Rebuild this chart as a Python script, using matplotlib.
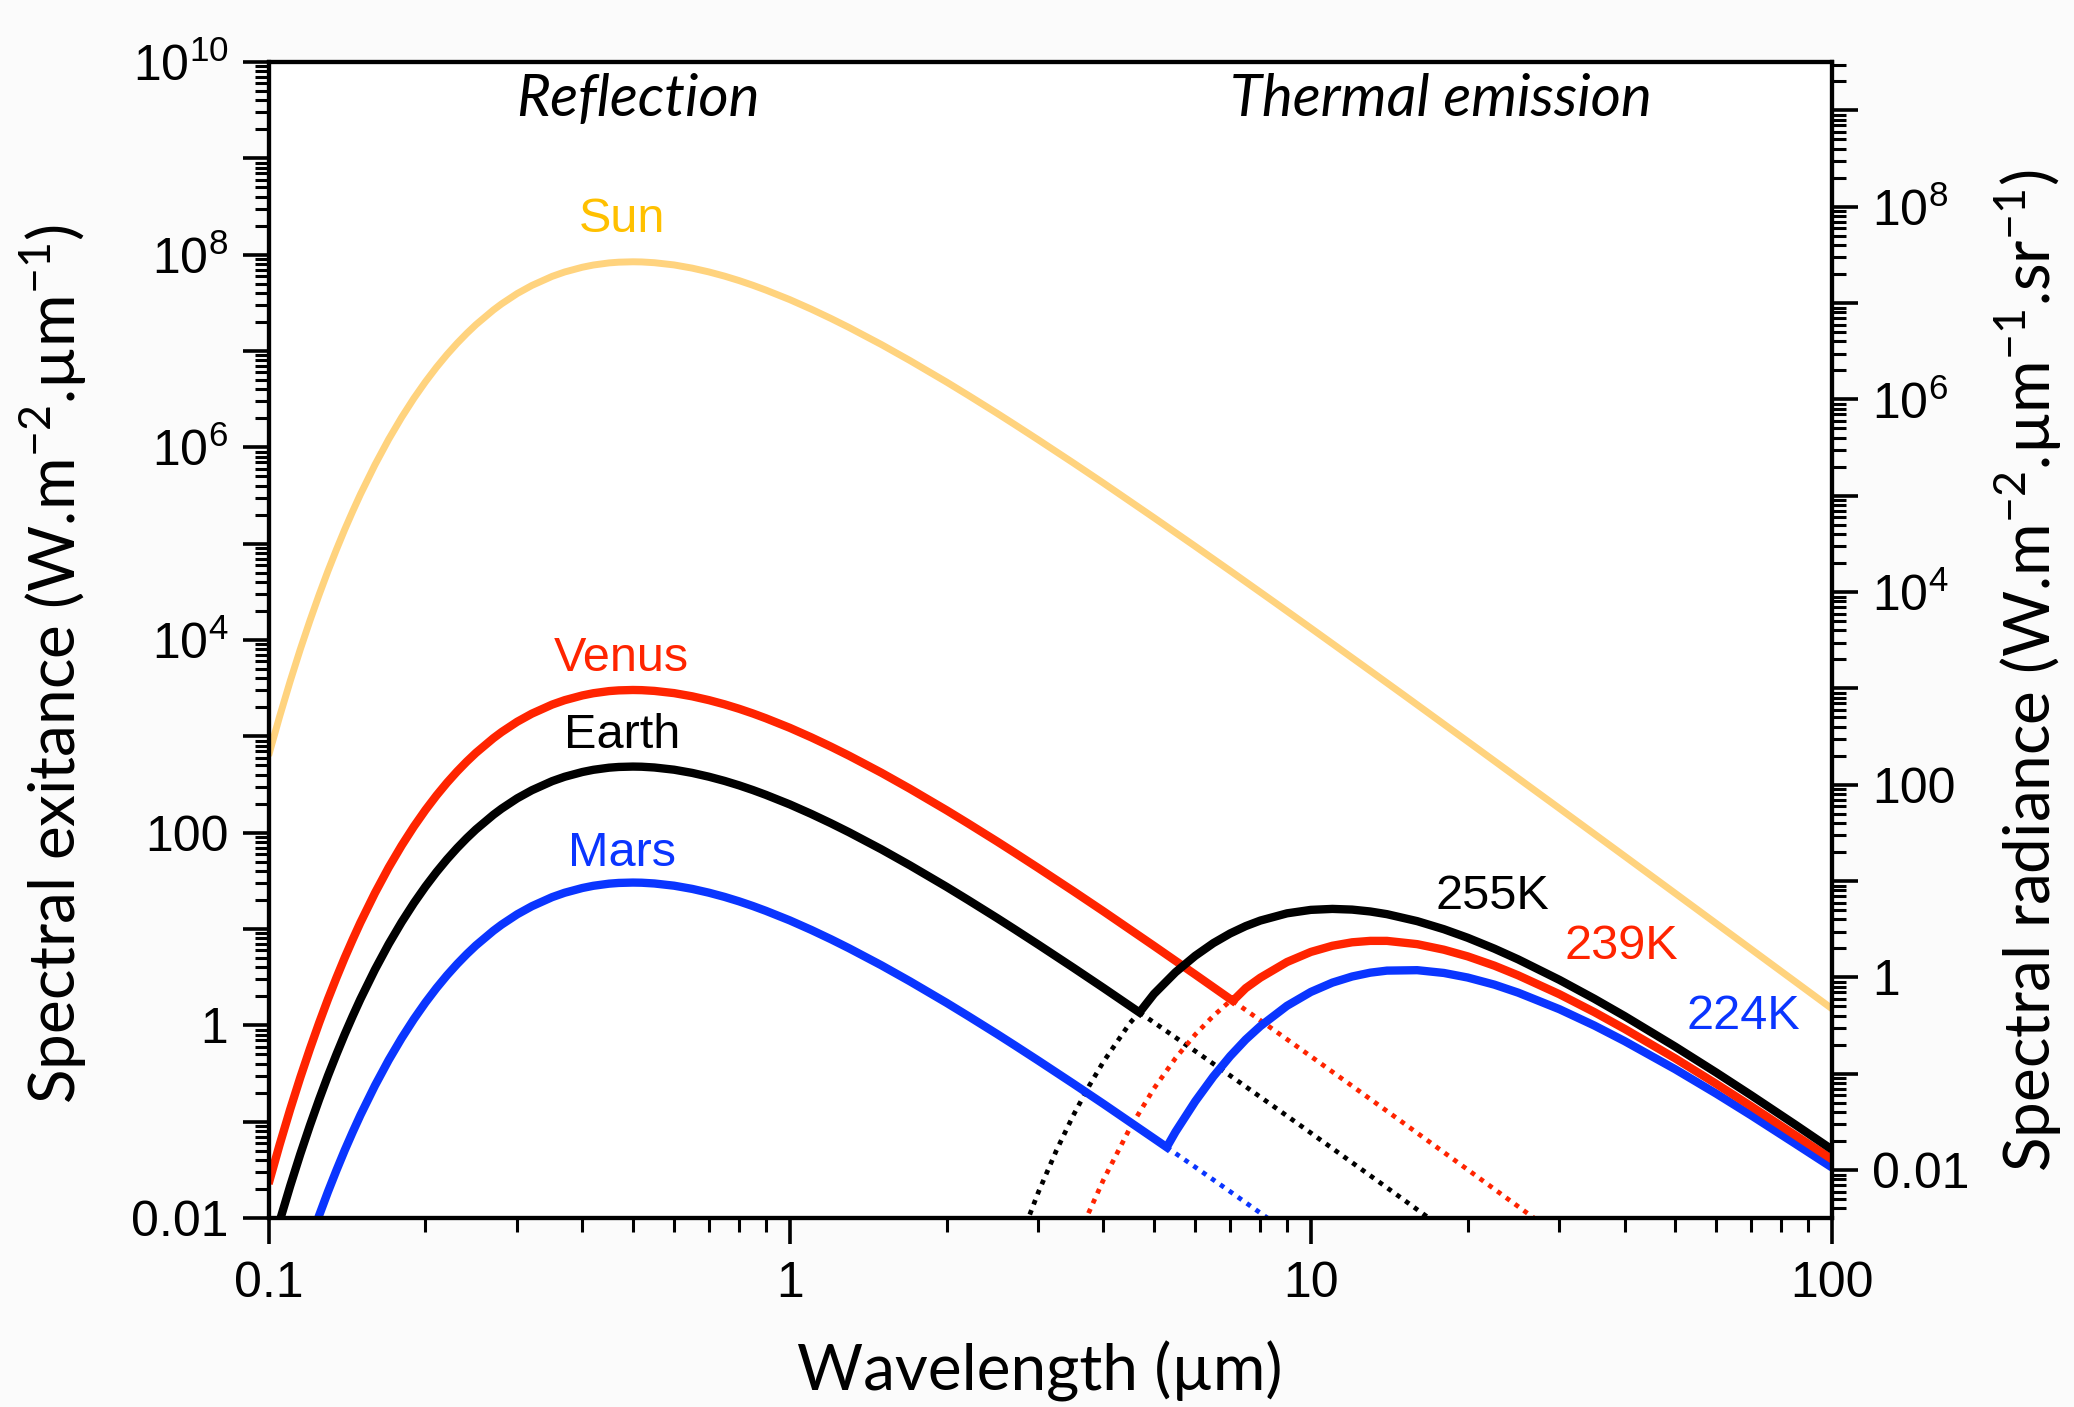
import numpy as np
import matplotlib
matplotlib.use("Agg")
import matplotlib.pyplot as plt
from matplotlib.ticker import LogLocator, FixedLocator, FixedFormatter, NullFormatter

# ---------------- data (stored as log10 of W.m-2.um-1) ----------------
wl_refl = [0.1, 0.105, 0.11, 0.115, 0.12, 0.125, 0.13, 0.135, 0.14, 0.145, 0.15, 0.16,
           0.17, 0.18, 0.19, 0.2, 0.21, 0.22, 0.23, 0.24, 0.25, 0.27, 0.28, 0.3, 0.32,
           0.35, 0.37, 0.4, 0.42, 0.45, 0.47, 0.5, 0.52, 0.55, 0.6, 0.65, 0.7, 0.75,
           0.8, 0.85, 0.9, 1.0, 1.1, 1.2, 1.3, 1.5, 1.7, 2, 2.2, 2.5, 2.7, 3, 3.5, 4,
           5, 6, 7, 8.5, 10, 12.5, 15, 20, 30, 40, 50, 70, 100]
sun_log = [2.800, 3.2065, 3.572, 3.9015, 4.199, 4.4698, 4.717, 4.9411, 5.148, 5.3363,
           5.511, 5.8191, 6.084, 6.3115, 6.509, 6.681, 6.8317, 6.964, 7.0803, 7.183,
           7.274, 7.4261, 7.4898, 7.597, 7.6806, 7.775, 7.8208, 7.870, 7.893, 7.915,
           7.9226, 7.9265, 7.9249, 7.917, 7.894, 7.8607, 7.821, 7.7775, 7.731, 7.6826,
           7.633, 7.534, 7.4348, 7.338, 7.2443, 7.067, 6.902, 6.678, 6.5412, 6.354,
           6.2384, 6.078, 5.8393, 5.629, 5.270, 4.973, 4.719, 4.3959, 4.1235, 3.7471,
           3.438, 2.947, 2.252, 1.7568, 1.3718, 0.790, 0.173]
venus_refl_log = [-1.645, -1.2385, -0.873, -0.5435, -0.246, 0.0248, 0.272, 0.4961, 0.703,
                  0.8913, 1.066, 1.3741, 1.639, 1.8665, 2.064, 2.236, 2.3867, 2.519,
                  2.6353, 2.738, 2.829, 2.9811, 3.0448, 3.152, 3.2356, 3.330, 3.3758,
                  3.425, 3.448, 3.470, 3.4776, 3.4815, 3.4799, 3.472, 3.449, 3.4157,
                  3.376, 3.3325, 3.286, 3.2376, 3.188, 3.089, 2.9898, 2.893, 2.7993,
                  2.622, 2.457, 2.233, 2.0962, 1.909, 1.7934, 1.633, 1.3943, 1.184,
                  0.825, 0.528, 0.274, -0.0491, -0.3215, -0.6979, -1.007, -1.498, -2.193]
earth_refl_log = [-2.44, -2.0335, -1.668, -1.3385, -1.041, -0.7702, -0.523, -0.2989,
                  -0.092, 0.0963, 0.271, 0.5791, 0.844, 1.0715, 1.269, 1.441, 1.5917,
                  1.724, 1.8403, 1.943, 2.034, 2.1861, 2.2498, 2.357, 2.4406, 2.535,
                  2.5808, 2.630, 2.653, 2.675, 2.6826, 2.6865, 2.6849, 2.677, 2.654,
                  2.6207, 2.581, 2.5375, 2.491, 2.4426, 2.393, 2.294, 2.1948, 2.098,
                  2.0043, 1.827, 1.662, 1.438, 1.3012, 1.114, 0.9984, 0.838, 0.5993,
                  0.389, 0.030, -0.267, -0.521, -0.8441, -1.1165, -1.4929, -1.802, -2.293]
mars_refl_log = [-3.644, -3.2375, -2.872, -2.5425, -2.245, -1.9742, -1.727, -1.5029,
                 -1.296, -1.1077, -0.933, -0.6249, -0.360, -0.1325, 0.065, 0.237, 0.3877,
                 0.520, 0.6363, 0.739, 0.830, 0.9821, 1.0458, 1.153, 1.2366, 1.331,
                 1.3768, 1.426, 1.449, 1.471, 1.4786, 1.4825, 1.4809, 1.473, 1.450,
                 1.4167, 1.377, 1.3335, 1.287, 1.2386, 1.189, 1.090, 0.9908, 0.894,
                 0.8003, 0.623, 0.458, 0.234, 0.0972, -0.090, -0.2056, -0.366, -0.6047,
                 -0.815, -1.174, -1.471, -1.725, -2.0481, -2.3205]

wl_th = [2.5, 2.75, 3, 3.25, 3.5, 3.75, 4, 4.5, 5, 5.5, 6, 6.5, 7, 7.5, 8, 9, 10, 11,
         12, 13, 14, 16, 18, 20, 22.5, 25, 30, 35, 40, 50, 60, 70, 85, 100]
earth_th_log = [-2.920, -2.263, -1.732, -1.2968, -0.935, -0.6329, -0.377, 0.027, 0.326,
                0.5516, 0.722, 0.8537, 0.954, 1.0305, 1.088, 1.163, 1.199, 1.209, 1.2018,
                1.1823, 1.1543, 1.0819, 0.9981, 0.9092, 0.7962, 0.6847, 0.472, 0.2761,
                0.0965, -0.2199, -0.4905, -0.726, -1.0299, -1.289]
venus_th_log = [-4.88, -4.0465, -3.367, -2.8058, -2.337, -1.9407, -1.603, -1.063, -0.655,
                -0.3402, -0.095, 0.0987, 0.2525, 0.3861, 0.4949, 0.6575, 0.7623, 0.8264,
                0.8624, 0.8772, 0.8771, 0.8431, 0.7855, 0.7162, 0.620, 0.519, 0.323,
                0.1373, -0.0362, -0.342, -0.6076, -0.8396, -1.1396, -1.39]
mars_th_log = [-6.57, -5.5825, -4.775, -4.1053, -3.543, -3.0671, -2.659, -2.001, -1.500,
               -1.105, -0.789, -0.5311, -0.320, -0.1471, -0.0085, 0.203, 0.347, 0.4438,
               0.5072, 0.547, 0.5684, 0.573, 0.5441, 0.4966, 0.4228, 0.3394, 0.1675,
               -0.0018, -0.1635, -0.4547, -0.7093, -0.9344, -1.2276, -1.475]

# crossing points (kinks): wavelength, log10 value
earth_kink = (4.69, 0.134)
venus_kink = (7.085, 0.254)
mars_kink = (5.29, -1.265)

planet_names = ["Venus", "Earth", "Mars"]
temp_labels = ["239K", "255K", "224K"]

# ---------------- style ----------------
C_SUN_LINE = "#FFD37E"
C_SUN_TEXT = "#FFC000"
C_RED = "#FF2400"
C_BLACK = "#000000"
C_BLUE = "#0A35FF"

LABEL_FONT = ["Lato", "DejaVu Sans"]
TICK_FONT = ["Liberation Sans", "DejaVu Sans"]

plt.rcParams["mathtext.fontset"] = "custom"
plt.rcParams["mathtext.rm"] = "Liberation Sans"

W, H = 2074, 1407
fig = plt.figure(figsize=(W / 100, H / 100), dpi=100, facecolor="#fbfbfb")
ax = fig.add_axes([0.1295, 0.1343, 0.7538, 0.8216])
ax.set_facecolor("white")
ax.set_xscale("log")
ax.set_yscale("log")
ax.set_xlim(0.1, 100)
ax.set_ylim(0.01, 1e10)


def split(wl, logs, kink):
    kw, kl = kink
    vals = [10.0 ** v for v in logs]
    wl = wl[:len(vals)]
    kv = 10.0 ** kl
    before_w = [w for w in wl if w < kw] + [kw]
    before_v = [v for w, v in zip(wl, vals) if w < kw] + [kv]
    after_w = [kw] + [w for w in wl if w > kw]
    after_v = [kv] + [v for w, v in zip(wl, vals) if w > kw]
    return (before_w, before_v), (after_w, after_v)


LW = 6.0
DOT = dict(linewidth=3.4, linestyle=(0, (1.0, 1.3)), dash_capstyle="butt")

ax.plot(wl_refl, [10.0 ** v for v in sun_log], color=C_SUN_LINE, lw=5.0,
        solid_capstyle="butt", solid_joinstyle="round", zorder=3)

series = {
    "Earth": (earth_refl_log, earth_th_log, earth_kink, C_BLACK, True),
    "Venus": (venus_refl_log, venus_th_log, venus_kink, C_RED, True),
    "Mars": (mars_refl_log, mars_th_log, mars_kink, C_BLUE, False),
}

for name in ["Earth", "Venus", "Mars"]:
    refl, th, kink, col, draw_th_dot = series[name]
    (rb_w, rb_v), (ra_w, ra_v) = split(wl_refl, refl, kink)
    (tb_w, tb_v), (ta_w, ta_v) = split(wl_th, th, kink)
    ax.plot(ra_w, ra_v, color=col, zorder=2, **DOT)
    if draw_th_dot:
        ax.plot(tb_w, tb_v, color=col, zorder=2, **DOT)

for name in ["Mars", "Venus", "Earth"]:
    refl, th, kink, col, _ = series[name]
    (rb_w, rb_v), (ra_w, ra_v) = split(wl_refl, refl, kink)
    (tb_w, tb_v), (ta_w, ta_v) = split(wl_th, th, kink)
    ax.plot(rb_w + ta_w[1:], rb_v + ta_v[1:], color=col, lw=LW,
            solid_joinstyle="miter", solid_capstyle="butt", zorder=4)

# ---------------- axes styling ----------------
SPINE_W = 3.0
for side in ["left", "bottom", "right", "top"]:
    ax.spines[side].set_linewidth(SPINE_W)
    ax.spines[side].set_zorder(6)

ax.xaxis.set_major_locator(FixedLocator([0.1, 1, 10, 100]))
ax.xaxis.set_major_formatter(FixedFormatter(["0.1", "1", "10", "100"]))
ax.xaxis.set_minor_locator(LogLocator(base=10, subs=np.arange(2, 10), numticks=50))
ax.xaxis.set_minor_formatter(NullFormatter())


def decade_labels(kmin, kmax):
    out = []
    for k in range(kmin, kmax + 1):
        if k % 2:
            out.append("")
        elif k == -2:
            out.append("0.01")
        elif k == 0:
            out.append("1")
        elif k == 2:
            out.append("100")
        else:
            out.append(r"$\mathregular{10^{%d}}$" % k)
    return out


ax.yaxis.set_major_locator(FixedLocator([10.0 ** k for k in range(-2, 11)]))
ax.yaxis.set_major_formatter(FixedFormatter(decade_labels(-2, 10)))
ax.yaxis.set_minor_locator(LogLocator(base=10, subs=np.arange(2, 10), numticks=50))
ax.yaxis.set_minor_formatter(NullFormatter())

TICK_SIZE = 36
ax.tick_params(axis="both", which="major", direction="out", length=19, width=2.6,
               labelsize=TICK_SIZE, pad=10, top=False, right=False)
ax.tick_params(axis="both", which="minor", direction="out", length=10, width=2.2,
               top=False, right=False)
ax.tick_params(axis="x", which="major", pad=12)
for lab in ax.get_xticklabels() + ax.get_yticklabels():
    lab.set_family(TICK_FONT)

# right axis: spectral radiance = exitance / pi
ax2 = ax.twinx()
ax2.set_yscale("log")
ax2.set_ylim(0.01 / np.pi, 1e10 / np.pi)
ax2.yaxis.set_major_locator(FixedLocator([10.0 ** k for k in range(-2, 10)]))
ax2.yaxis.set_major_formatter(FixedFormatter(decade_labels(-2, 9)))
ax2.yaxis.set_minor_locator(LogLocator(base=10, subs=np.arange(2, 10), numticks=50))
ax2.yaxis.set_minor_formatter(NullFormatter())
ax2.tick_params(axis="y", which="major", direction="out", length=19, width=2.6,
                labelsize=TICK_SIZE, pad=10)
ax2.tick_params(axis="y", which="minor", direction="out", length=10, width=2.2)
for lab in ax2.get_yticklabels():
    lab.set_family(TICK_FONT)
for side in ["left", "bottom", "right", "top"]:
    ax2.spines[side].set_linewidth(SPINE_W)

# axis labels (placed as figure text)
LBL = dict(fontsize=46, family=LABEL_FONT, ha="center", va="center")
fig.text(0.5013, 0.025, "Wavelength (µm)", **LBL)
fig.text(0.0255, 0.528,
         r"Spectral exitance (W.m$\mathregular{^{-2}}$.µm$\mathregular{^{-1}}$)",
         rotation=90, **LBL)
fig.text(0.9777, 0.523,
         r"Spectral radiance (W.m$\mathregular{^{-2}}$.µm$\mathregular{^{-1}}$.sr$\mathregular{^{-1}}$)",
         rotation=90, **LBL)

# region annotations
ax.text(0.236, 0.968, "Reflection", transform=ax.transAxes, ha="center", va="center",
        fontsize=42, family=LABEL_FONT, fontstyle="italic")
ax.text(0.750, 0.968, "Thermal emission", transform=ax.transAxes, ha="center",
        va="center", fontsize=42, family=LABEL_FONT, fontstyle="italic")

# curve labels
lab_kw = dict(ha="center", va="center", fontsize=35, family=TICK_FONT, zorder=7)
ax.text(0.476, 2.34e8, "Sun", color=C_SUN_TEXT, **lab_kw)
ax.text(0.476, 6430, planet_names[0], color=C_RED, **lab_kw)
ax.text(0.476, 1032, planet_names[1], color=C_BLACK, **lab_kw)
ax.text(0.476, 60.4, planet_names[2], color=C_BLUE, **lab_kw)
ax.text(22.3, 22.0, temp_labels[1], color=C_BLACK, **lab_kw)
ax.text(39.5, 6.63, temp_labels[0], color=C_RED, **lab_kw)
ax.text(67.6, 1.25, temp_labels[2], color=C_BLUE, **lab_kw)

fig.savefig("out.png", dpi=100, facecolor=fig.get_facecolor())
